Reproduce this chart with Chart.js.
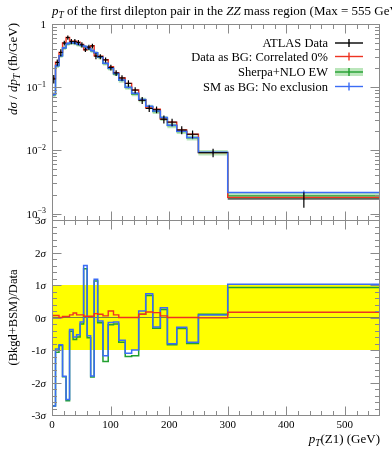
<!DOCTYPE html>
<html><head><meta charset="utf-8">
<script src="https://cdn.jsdelivr.net/npm/chart.js@4/dist/chart.umd.min.js"></script>
<style>
html,body{margin:0;padding:0;background:#fff;}
#wrap{position:relative;width:392px;height:450px;overflow:hidden;}
canvas{position:absolute;left:0;top:0;}
</style></head><body>
<div id="wrap"><canvas id="cRatio" width="392" height="450" style="width:392px;height:450px"></canvas><canvas id="cTop" width="392" height="450" style="width:392px;height:450px"></canvas></div>
<script>
// ---------------- data ----------------
const binEdges = [0,6,12,18,24,30,36,42,48,54,60,66,72,78,87,96,105,114,125,136,148,160,172,185,197,213,230,250,300,560];
const dataValues = [0.135,0.246,0.355,0.50,0.61,0.53,0.53,0.51,0.47,0.39,0.43,0.45,0.31,0.305,0.27,0.205,0.168,0.14,0.115,0.09,0.062,0.046,0.044,0.031,0.028,0.021,0.018,0.0092,0.0017];
const dataErrors = [0.021,0.027,0.045,0.044,0.048,0.05,0.05,0.05,0.045,0.031,0.04,0.039,0.034,0.028,0.025,0.021,0.018,0.014,0.0136,0.01,0.008,0.0055,0.0055,0.0045,0.0037,0.003,0.0026,0.0014,0.00047];
const redValues = [0.137,0.248,0.355,0.50,0.612,0.535,0.535,0.515,0.474,0.392,0.432,0.452,0.313,0.308,0.272,0.21,0.17,0.14,0.115,0.09,0.063,0.047,0.045,0.0312,0.028,0.021,0.018,0.0092,0.0018];
const redErrFrac = [0.05,0.04,0.04,0.03,0.03,0.03,0.03,0.03,0.03,0.03,0.03,0.03,0.03,0.03,0.03,0.04,0.04,0.04,0.04,0.04,0.05,0.05,0.05,0.05,0.05,0.06,0.06,0.06,0.08];
const greenValues = [0.076,0.217,0.315,0.418,0.487,0.505,0.495,0.475,0.455,0.435,0.405,0.378,0.347,0.298,0.236,0.197,0.162,0.128,0.099,0.078,0.063,0.049,0.041,0.032,0.0247,0.0199,0.0158,0.0092,0.0019];
const greenUncFrac = [0.08,0.07,0.07,0.07,0.07,0.07,0.07,0.07,0.07,0.07,0.07,0.07,0.07,0.07,0.07,0.07,0.07,0.08,0.08,0.08,0.08,0.08,0.08,0.09,0.09,0.09,0.09,0.1,0.11];
const blueValues = [0.077,0.22,0.315,0.42,0.49,0.51,0.50,0.48,0.46,0.44,0.41,0.38,0.35,0.30,0.24,0.20,0.165,0.13,0.10,0.08,0.064,0.05,0.042,0.033,0.025,0.02,0.016,0.0093,0.00215];
const blueErrFrac = [0.06,0.05,0.04,0.04,0.04,0.04,0.04,0.04,0.04,0.04,0.04,0.04,0.04,0.04,0.04,0.04,0.04,0.05,0.05,0.05,0.05,0.05,0.05,0.05,0.06,0.06,0.06,0.06,0.08];
const redRatio = [0.06,0.06,0.0,0.03,0.03,0.08,0.14,0.08,0.08,0.04,0.04,0.04,0.12,0.1,0.05,0.2,0.08,0.0,0.0,0.0,0.1,0.17,0.15,0.05,0.0,0.0,0.0,-0.01,0.16];
const greenRatio = [-2.72,-1.07,-0.86,-1.82,-2.56,-0.42,-0.68,-0.6,-0.2,1.5,-0.62,-1.83,1.12,-0.16,-1.35,-0.22,-0.2,-0.76,-1.2,-1.18,0.1,0.68,-0.33,0.25,-0.84,-0.34,-0.8,0.1,0.92];
const blueRatio = [-2.72,-0.97,-0.84,-1.81,-2.52,-0.37,-0.6,-0.53,-0.14,1.6,-0.56,-1.8,1.18,-0.11,-1.18,-0.15,-0.14,-0.7,-1.1,-1.0,0.2,0.73,-0.29,0.3,-0.81,-0.3,-0.76,0.08,1.02];
const xTickLabels = [0,100,200,300,400,500];
const yTopTickLabels = [1,0.1,0.01,0.001];
const ratioTickLabels = [3,2,1,0,-1,-2,-3];
const legendLabels = ['ATLAS Data','Data as BG: Correlated 0%','Sherpa+NLO EW','SM as BG: No exclusion'];

// ---------------- style ----------------
const SERIF = '"Liberation Serif","DejaVu Serif",serif';
const C_DATA = '#000000', C_RED = '#ee3322', C_GREEN = '#22a030', C_BLUE = '#3b6cf5';
const C_BAND = 'rgba(120,205,120,0.5)', C_FRAME = '#8a8a8a', C_YEL = '#ffff00', C_ZERO = '#808040';
const X_MIN = 0, X_MAX = 560;

// ---------------- helpers ----------------
function hist(vals){
  const p = vals.map((v,i)=>({x:binEdges[i], y:v}));
  p.push({x:binEdges[binEdges.length-1], y:vals[vals.length-1]});
  return p;
}
function vErr(vals, lo, hi){
  const p = [];
  vals.forEach((v,i)=>{
    const c = (binEdges[i]+binEdges[i+1])/2;
    p.push({x:c, y:lo[i]}, {x:c, y:hi[i]}, {x:c, y:null});
  });
  return p;
}
function hBars(vals){
  const p = [];
  vals.forEach((v,i)=>{ p.push({x:binEdges[i], y:v}, {x:binEdges[i+1], y:v}, {x:binEdges[i+1], y:null}); });
  return p;
}
function line(color, data, w, extra){
  return Object.assign({type:'line', data, borderColor:color, borderWidth:w, pointRadius:0, fill:false, tension:0, spanGaps:false}, extra||{});
}
function fnt(sz, it){ return (it?'italic ':'') + sz + 'px ' + SERIF; }
function richW(ctx, segs, sz){
  let w = 0;
  for (const s of segs){ ctx.font = fnt((s.sub||s.sup)?sz*0.72:sz, s.it); w += ctx.measureText(s.t).width; }
  return w;
}
function rich(ctx, segs, x, y, sz, align){
  const w = richW(ctx, segs, sz);
  let cx = align==='right' ? x-w : align==='center' ? x-w/2 : x;
  ctx.textAlign = 'left'; ctx.textBaseline = 'alphabetic';
  for (const s of segs){
    const fs = (s.sub||s.sup)?sz*0.72:sz;
    ctx.font = fnt(fs, s.it);
    const dy = s.sub ? sz*0.22 : s.sup ? -sz*0.42 : 0;
    ctx.fillText(s.t, cx, y+dy);
    cx += ctx.measureText(s.t).width;
  }
}
function seg(ctx, x1, y1, x2, y2){ ctx.beginPath(); ctx.moveTo(x1,y1); ctx.lineTo(x2,y2); ctx.stroke(); }
function frameAndXTicks(ctx, a, sx){
  ctx.strokeStyle = C_FRAME; ctx.lineWidth = 1;
  const L = Math.round(a.left)+0.5, R = Math.round(a.right)-0.5, T = Math.round(a.top)+0.5, B = Math.round(a.bottom)+0.5;
  ctx.strokeRect(L, T, R-L, B-T);
  for (let v = 20; v < X_MAX; v += 20){
    const px = Math.round(sx.getPixelForValue(v))+0.5;
    const len = v%100===0 ? 9 : 4.5;
    seg(ctx, px, T, px, T+len);
    seg(ctx, px, B, px, B-len);
  }
  return {L,R,T,B};
}

// ---------------- top panel ----------------
const topDeco = {
  id:'topDeco',
  afterDraw(chart){
    const ctx = chart.ctx, a = chart.chartArea, sx = chart.scales.x, sy = chart.scales.y;
    ctx.save();
    const f = frameAndXTicks(ctx, a, sx);
    const yMin = sy.min, yMax = sy.max;
    for (let k = -4; k <= 0; k++){
      for (let m = 1; m <= 9; m++){
        const v = m*Math.pow(10,k);
        if (v < yMin*0.999 || v > yMax*1.001) continue;
        const py = Math.round(sy.getPixelForValue(v))+0.5;
        const len = m===1 ? 9 : 4.5;
        seg(ctx, f.L, py, f.L+len, py);
        seg(ctx, f.R, py, f.R-len, py);
      }
    }
    ctx.fillStyle = '#000';
    yTopTickLabels.forEach(v=>{
      const py = sy.getPixelForValue(v);
      const e = Math.round(Math.log10(v));
      const segs = e===0 ? [{t:'1'}] : [{t:'10'},{t:'\u2212'+(-e),sup:1}];
      rich(ctx, segs, 46, py+4, 11, 'right');
    });
    // title
    rich(ctx, [{t:'p',it:1},{t:'T',it:1,sub:1},{t:' of the first dilepton pair in the '},{t:'ZZ',it:1},{t:' mass region (Max = 555 GeV)'}], 52, 15, 13, 'left');
    // y title
    ctx.save(); ctx.translate(17, 23); ctx.rotate(-Math.PI/2);
    rich(ctx, [{t:'d',it:1},{t:'\u03c3',it:1},{t:' / '},{t:'d',it:1},{t:'p',it:1},{t:'T',it:1,sub:1},{t:' (fb/GeV)'}], 0, 0, 13, 'right');
    ctx.restore();
    // legend
    const rows = [47, 60.5, 76, 90.5];
    const cols = [C_DATA, C_RED, C_GREEN, C_BLUE];
    const x1 = 335, x2 = 363, xc = 349;
    legendLabels.forEach((t,i)=>{
      ctx.fillStyle = '#000';
      ctx.font = fnt(12.5,false); ctx.textAlign='right'; ctx.textBaseline='alphabetic';
      ctx.fillText(t, 328, rows[i]);
      const ym = rows[i]-4;
      if (i===2){ ctx.fillStyle = C_BAND; ctx.fillRect(x1, ym-4, x2-x1, 8); }
      ctx.strokeStyle = cols[i]; ctx.lineWidth = 1.4;
      seg(ctx, x1, ym, x2, ym);
      seg(ctx, xc, ym-4, xc, ym+4);
    });
    ctx.restore();
  }
};

const gLo = greenValues.map((v,i)=>v*(1-greenUncFrac[i]));
const gHi = greenValues.map((v,i)=>v*(1+greenUncFrac[i]));

new Chart(document.getElementById('cTop'), {
  type:'line',
  data:{ datasets:[
    line(C_DATA, vErr(dataValues, dataValues.map((v,i)=>v-dataErrors[i]), dataValues.map((v,i)=>v+dataErrors[i])), 1.2),
    line(C_DATA, hBars(dataValues), 1.0),
    line(C_BLUE, vErr(blueValues, blueValues.map((v,i)=>v*(1-blueErrFrac[i])), blueValues.map((v,i)=>v*(1+blueErrFrac[i]))), 1.2),
    line(C_RED, vErr(redValues, redValues.map((v,i)=>v*(1-redErrFrac[i])), redValues.map((v,i)=>v*(1+redErrFrac[i]))), 1.2),
    line(C_BLUE, hist(blueValues), 1.5, {stepped:'before'}),
    line(C_RED, hist(redValues), 1.4, {stepped:'before'}),
    line(C_GREEN, hist(greenValues), 1.4, {stepped:'before'}),
    line('rgba(0,0,0,0)', hist(gHi), 0, {stepped:'before', fill:'+1', backgroundColor:C_BAND}),
    line('rgba(0,0,0,0)', hist(gLo), 0, {stepped:'before'})
  ]},
  options:{
    responsive:false, animation:false, devicePixelRatio:1,
    layout:{padding:{left:52, right:12, top:24, bottom:230}},
    scales:{
      x:{type:'linear', min:X_MIN, max:X_MAX, display:false},
      y:{type:'logarithmic', min:7.9e-4, max:1.0, display:false}
    },
    plugins:{legend:{display:false}, tooltip:{enabled:false}}
  },
  plugins:[topDeco]
});

// ---------------- ratio panel ----------------
const ratioDeco = {
  id:'ratioDeco',
  afterDraw(chart){
    const ctx = chart.ctx, a = chart.chartArea, sx = chart.scales.x, sy = chart.scales.y;
    ctx.save();
    const f = frameAndXTicks(ctx, a, sx);
    for (let i = -15; i <= 15; i++){
      const v = i/5;
      const py = Math.round(sy.getPixelForValue(v))+0.5;
      const len = i%5===0 ? 9 : 4.5;
      seg(ctx, f.L, py, f.L+len, py);
      seg(ctx, f.R, py, f.R-len, py);
    }
    ctx.fillStyle = '#000';
    ratioTickLabels.forEach(v=>{
      const py = sy.getPixelForValue(v);
      rich(ctx, [{t:String(v)},{t:'\u03c3',it:1}], 46, py+4, 11, 'right');
    });
    xTickLabels.forEach(v=>{
      rich(ctx, [{t:String(v)}], sx.getPixelForValue(v), 428, 11, 'center');
    });
    rich(ctx, [{t:'p',it:1},{t:'T',it:1,sub:1},{t:'(Z1) (GeV)'}], 380, 443, 13, 'right');
    ctx.save(); ctx.translate(17, (a.top+a.bottom)/2); ctx.rotate(-Math.PI/2);
    rich(ctx, [{t:'(Bkgd+BSM)/Data'}], 0, 0, 12.5, 'center');
    ctx.restore();
    ctx.restore();
  }
};

new Chart(document.getElementById('cRatio'), {
  type:'line',
  data:{ datasets:[
    line(C_RED, hist(redRatio), 1.4, {stepped:'before'}),
    line(C_BLUE, hist(blueRatio), 1.5, {stepped:'before'}),
    line(C_GREEN, hist(greenRatio), 1.5, {stepped:'before'}),
    line(C_ZERO, [{x:X_MIN,y:0},{x:X_MAX,y:0}], 1.0),
    line('rgba(0,0,0,0)', [{x:X_MIN,y:1},{x:X_MAX,y:1}], 0, {fill:'+1', backgroundColor:C_YEL}),
    line('rgba(0,0,0,0)', [{x:X_MIN,y:-1},{x:X_MAX,y:-1}], 0)
  ]},
  options:{
    responsive:false, animation:false, devicePixelRatio:1,
    layout:{padding:{left:52, right:12, top:220, bottom:35}},
    scales:{
      x:{type:'linear', min:X_MIN, max:X_MAX, display:false},
      y:{type:'linear', min:-3, max:3, display:false}
    },
    plugins:{legend:{display:false}, tooltip:{enabled:false}}
  },
  plugins:[ratioDeco]
});
</script>
</body></html>
